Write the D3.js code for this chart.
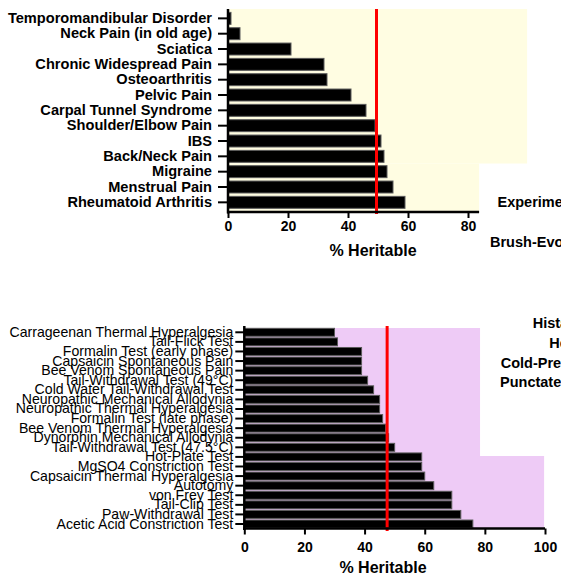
<!DOCTYPE html>
<html><head><meta charset="utf-8">
<script src="https://cdn.jsdelivr.net/npm/d3@7"></script>
<style>
html,body{margin:0;padding:0;background:#fff;overflow:hidden}
svg{display:block;font-family:"Liberation Sans",Arial,sans-serif}
</style></head><body>
<svg id="c" width="561" height="578"></svg>
<script>
// ---- data ----
const topCategories = ["Temporomandibular Disorder","Neck Pain (in old age)","Sciatica","Chronic Widespread Pain ","Osteoarthritis","Pelvic Pain","Carpal Tunnel Syndrome","Shoulder/Elbow Pain","IBS","Back/Neck Pain","Migraine","Menstrual Pain","Rheumatoid Arthritis"];
const topValues = [1,4,21,32,33,41,46,49,51,52,53,55,59];
const topTicks = [0,20,40,60,80];
const topMean = 49.5;

const bottomCategories = ["Carrageenan Thermal Hyperalgesia","Tail-Flick Test","Formalin Test (early phase)","Capsaicin Spontaneous Pain","Bee Venom Spontaneous Pain","Tail-Withdrawal Test (49°C)","Cold Water Tail-Withdrawal Test","Neuropathic Mechanical Allodynia","Neuropathic Thermal Hyperalgesia","Formalin Test (late phase)","Bee Venom Thermal Hyperalgesia","Dynorphin Mechanical Allodynia","Tail-Withdrawal Test (47.5°C)","Hot-Plate Test","MgSO4 Constriction Test","Capsaicin Thermal Hyperalgesia","Autotomy","von Frey Test","Tail-Clip Test","Paw-Withdrawal Test","Acetic Acid Constriction Test"];
const bottomValues = [30,31,39,39,39,41,43,45,45,46,47,48,50,59,59,60,63,69,69,72,76];
const bottomTicks = [0,20,40,60,80,100];
const bottomMean = 47.5;

const topSideLabels = [{t:"Experimental",x:497.5,y:207},{t:"Brush-Evoked",x:490,y:247}];
const bottomSideLabels = [{t:"Histamine",x:532.7,y:327.5},{t:"Heat",x:549.3,y:347.5},{t:"Cold-Pressor",x:500.7,y:367.5},{t:"Punctate",x:500,y:387}];

const svg = d3.select("#c");

function panel(o){
  const g = svg.append("g");
  const x = d3.scaleLinear().domain([0,100]).range([o.x0, o.x100]);
  const y = d3.scaleBand().domain(o.cats).range([o.yTop, o.yBot]).paddingInner(o.pad).paddingOuter(o.pad/2);
  // backgrounds
  o.bg.forEach(b=>{
    g.append("rect").attr("x",x(0)).attr("y",b.y0).attr("width",x(b.v)-x(0)).attr("height",b.y1-b.y0).attr("fill",o.bgColor);
  });
  // bars
  g.selectAll("rect.bar").data(o.cats).join("rect").attr("class","bar")
    .attr("x",x(0)).attr("y",d=>y(d)).attr("height",y.bandwidth())
    .attr("width",(d,i)=>x(o.vals[i])-x(0))
    .attr("fill","#000").attr("stroke","#5a5a5a").attr("stroke-width",1);
  // mean line
  g.append("line").attr("x1",x(o.mean)).attr("x2",x(o.mean)).attr("y1",o.redTop).attr("y2",o.redBot)
    .attr("stroke","#ff0000").attr("stroke-width",3);
  // y axis
  const ya = g.append("g").attr("transform",`translate(${x(0)},0)`)
    .call(d3.axisLeft(y).tickSize(o.ytick).tickPadding(o.ypad));
  ya.select(".domain").remove();
  ya.selectAll(".tick line").attr("stroke","#000").attr("stroke-width",2);
  ya.selectAll("text").attr("fill","#000").style("font-size",o.yfs+"px")
    .style("font-weight",o.yfw).style("font-family",'"Liberation Sans",Arial,sans-serif');
  g.append("line").attr("x1",x(0)).attr("x2",x(0)).attr("y1",o.axTop).attr("y2",o.axisY+1.5).attr("stroke","#000").attr("stroke-width",2.5);
  // x axis
  const xa = g.append("g").attr("transform",`translate(0,${o.axisY})`)
    .call(d3.axisBottom(x).tickValues(o.ticks).tickSize(6).tickSizeOuter(0).tickPadding(o.xpad));
  xa.select(".domain").attr("d",`M${x(0)-1},0H${x(o.axEnd)}`).attr("stroke","#000").attr("stroke-width",2.5);
  xa.selectAll(".tick line").attr("stroke","#000").attr("stroke-width",2);
  xa.selectAll("text").attr("fill","#000").style("font-size","14px").style("font-weight","bold").style("font-family",'"Liberation Sans",Arial,sans-serif');
  g.append("text").attr("x",o.titleX).attr("y",o.titleY).attr("text-anchor","middle")
    .style("font-size","16px").style("font-weight","bold").text("% Heritable");
  o.side.forEach(s=>{
    g.append("text").attr("x",s.x).attr("y",s.y).style("font-size","14.5px").style("font-weight","bold").text(s.t);
  });
}

panel({cats:topCategories, vals:topValues, mean:topMean, ticks:topTicks,
  x0:228, x100:528, yTop:10.7, yBot:210, pad:0.22,
  bg:[{v:99.7,y0:9,y1:163.5},{v:83.7,y0:163.5,y1:212}], bgColor:"#fffde2",
  redTop:9, redBot:214, axisY:212, axEnd:83.7, axTop:9,
  ytick:10, ypad:6, yfs:14.6, yfw:"bold", xpad:3, titleX:373, titleY:256, side:topSideLabels});

panel({cats:bottomCategories, vals:bottomValues, mean:bottomMean, ticks:bottomTicks,
  x0:244.3, x100:545, yTop:327.5, yBot:528.8, pad:0.17,
  bg:[{v:78.4,y0:328,y1:456},{v:99.7,y0:456,y1:528.5}], bgColor:"#eecbf6",
  redTop:326, redBot:531, axisY:528.5, axEnd:100, axTop:326,
  ytick:9, ypad:2, yfs:14.1, yfw:"normal", xpad:7.5, titleX:383, titleY:573, side:bottomSideLabels});
</script>
</body></html>
